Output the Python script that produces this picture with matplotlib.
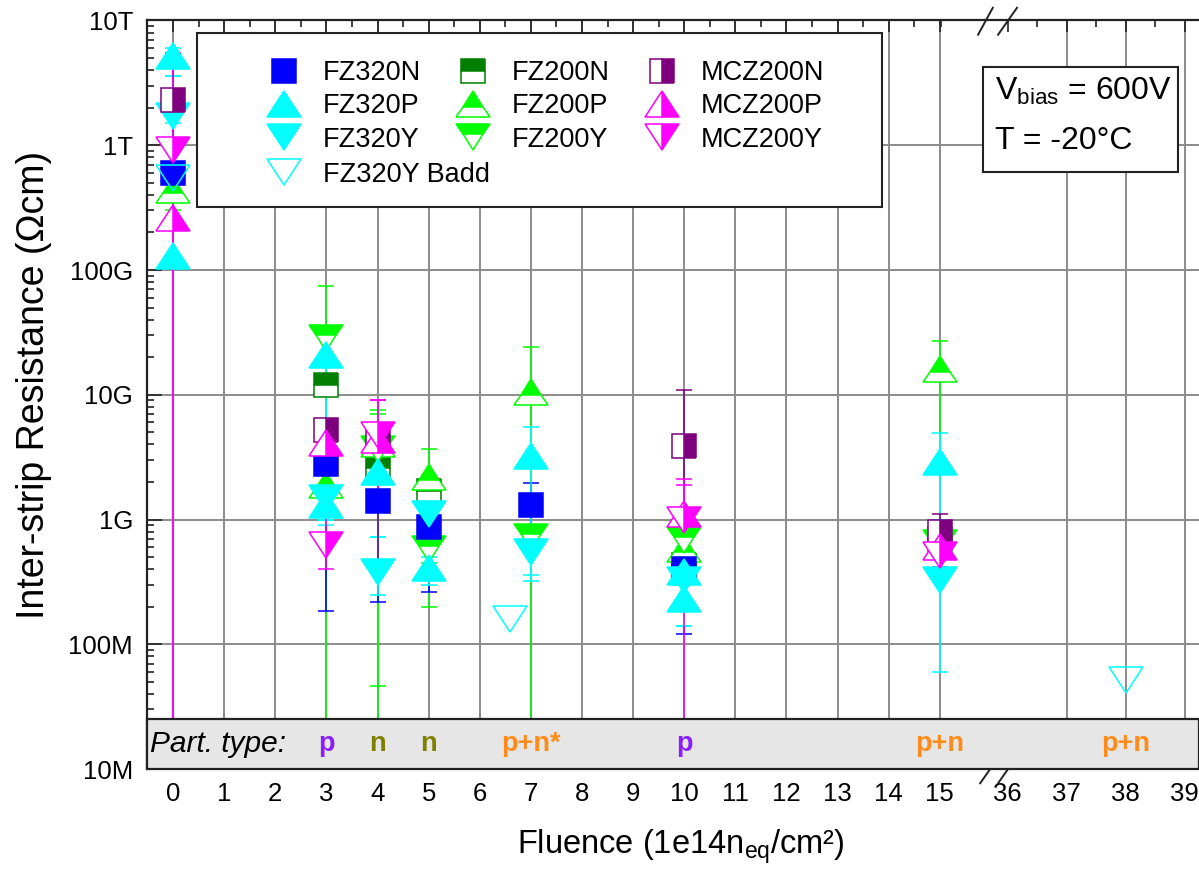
import numpy as np
import matplotlib
matplotlib.use('Agg')
import matplotlib.pyplot as plt
from matplotlib.markers import MarkerStyle
from matplotlib.transforms import Affine2D
from matplotlib.lines import Line2D
from matplotlib.patches import Rectangle

plt.rcParams['font.family'] = ['Liberation Sans', 'DejaVu Sans']
plt.rcParams['mathtext.fontset'] = 'custom'
plt.rcParams['mathtext.rm'] = 'Liberation Sans'
plt.rcParams['mathtext.it'] = 'Liberation Sans:italic'
plt.rcParams['mathtext.bf'] = 'Liberation Sans:bold'

# ---- measurements: value, lower and upper end of the error bar (Ohm cm) ----
# a lower end of 0 means the error is larger than the value itself
fz320n_x = [0, 3, 4, 5, 7, 10]
fz320n_y = [6.0e11, 2.8e9, 1.4e9, 8.7e8, 1.3e9, 4.0e8]
fz320n_lo = [5.6e11, 1.86e8, 2.2e8, 2.6e8, 7.2e8, 1.2e8]
fz320n_hi = [6.4e11, 5.5e9, 2.4e9, 1.3e9, 1.95e9, 1.1e9]

fz320p_x = [0, 0, 3, 3, 4, 5, 7, 10, 10, 15]
fz320p_y = [5.2e12, 1.3e11, 2.1e10, 1.3e9, 2.4e9, 4.1e8, 3.2e9, 3.8e8, 2.3e8, 2.9e9]
fz320p_lo = [3.6e12, 1.3e11, 1.0e9, 9.0e8, 7.2e8, 3.0e8, 3.6e8, 1.4e8, 1.4e8, 1.0e9]
fz320p_hi = [6.0e12, 1.3e11, 3.0e10, 1.8e9, 5.3e9, 7.0e8, 5.5e9, 6.0e8, 5.0e8, 4.9e9]

fz320y_x = [0, 3, 4, 5, 7, 10, 15]
fz320y_y = [1.7e12, 1.5e9, 3.8e8, 1.1e9, 5.5e8, 3.3e8, 3.3e8]
fz320y_lo = [1.5e12, 1.0e9, 2.5e8, 5.0e8, 3.2e8, 1.4e8, 6.0e7]
fz320y_hi = [3.6e12, 2.5e9, 7.2e8, 1.6e9, 6.5e8, 6.0e8, 1.0e9]

fz320yb_x = [0, 6.6, 38]
fz320yb_y = [5.5e11, 1.6e8, 5.2e7]

fz200n_x = [3, 4, 5, 10, 15]
fz200n_y = [1.2e10, 2.6e9, 1.7e9, 4.3e8, 7.0e8]
fz200n_lo = [1.1e10, 2.4e9, 1.5e9, 3.5e8, 6.0e8]
fz200n_hi = [1.3e10, 2.8e9, 1.9e9, 5.0e8, 8.0e8]

fz200p_x = [0, 3, 4, 5, 7, 10, 15]
fz200p_y = [4.4e11, 1.9e9, 4.0e9, 2.2e9, 1.06e10, 5.8e8, 1.6e10]
fz200p_lo = [3.0e11, 1.0e9, 4.6e7, 2.0e8, 0, 3.0e8, 2.8e9]
fz200p_hi = [1.0e12, 3.0e9, 7.5e9, 3.7e9, 2.4e10, 9.0e8, 2.7e10]

fz200y_x = [3, 4, 5, 7, 10, 15]
fz200y_y = [2.86e10, 3.7e9, 5.8e8, 7.2e8, 6.9e8, 6.5e8]
fz200y_lo = [0, 0, 4.5e8, 5.8e8, 3.5e8, 5.0e8]
fz200y_hi = [7.5e10, 7.0e9, 7.0e8, 9.0e8, 1.2e9, 8.0e8]

mcz200n_x = [0, 3, 4, 10, 15]
mcz200n_y = [2.3e12, 5.2e9, 4.5e9, 3.9e9, 7.9e8]
mcz200n_lo = [1.0e12, 2.5e9, 4.0e8, 1.1e9, 4.2e8]
mcz200n_hi = [5.5e12, 6.0e9, 5.5e9, 1.1e10, 1.1e9]

mcz200p_x = [0, 3, 4, 10, 15]
mcz200p_y = [2.6e11, 4.1e9, 4.3e9, 1.1e9, 6.0e8]
mcz200p_lo = [0, 1.5e9, 1.3e9, 5.0e8, 4.0e8]
mcz200p_hi = [9.0e11, 6.0e9, 9.0e9, 2.1e9, 8.0e8]

mcz200y_x = [0, 3, 4, 10, 15]
mcz200y_y = [9.1e11, 6.3e8, 4.8e9, 1.0e9, 5.2e8]
mcz200y_lo = [0, 4.0e8, 1.3e9, 0, 3.5e8]
mcz200y_hi = [5.0e12, 1.5e9, 9.0e9, 1.9e9, 7.0e8]

# particle type used for each irradiation
part_x = [3, 4, 5, 7, 10, 15, 38]
part_lab = ['p', 'n', 'n', 'p+n*', 'p', 'p+n', 'p+n']
part_col = {'p': '#8A1EFF', 'n': '#808000', 'p+n*': '#FF8C1A', 'p+n': '#FF8C1A'}

xticks = list(range(0, 16)) + [36, 37, 38, 39]
ylabels = ['10M', '100M', '1G', '10G', '100G', '1T', '10T']

# broken fluence axis: 15 -> 36 squeezed, right part slightly wider
BRK_LO, BRK_HI = 15.0, 36.0
GAP, STRETCH = 1.33, 1.155


def fwd(x):
    x = np.asarray(x, dtype=float)
    return np.where(x <= BRK_LO, x,
                    np.where(x >= BRK_HI, BRK_LO + GAP + (x - BRK_HI) * STRETCH,
                             BRK_LO + (x - BRK_LO) * GAP / (BRK_HI - BRK_LO)))


def inv(p):
    p = np.asarray(p, dtype=float)
    return np.where(p <= BRK_LO, p,
                    np.where(p >= BRK_LO + GAP, BRK_HI + (p - BRK_LO - GAP) / STRETCH,
                             BRK_LO + (p - BRK_LO) * (BRK_HI - BRK_LO) / GAP))


tri_shape = Affine2D().scale(1.0, 0.8)
BLUE, CYAN = '#0000FF', '#00FFFF'
DGREEN, GREEN = '#007F00', '#00FF00'
PURPLE, MAGENTA = '#7F007F', '#FF00FF'


def mstyle(m, fill):
    if m == 's':
        return MarkerStyle(m, fillstyle=fill), 17
    return MarkerStyle(m, fillstyle=fill, transform=tri_shape), 24


# name, x, y, lo, hi, colour, marker, fill
series = [
    ('FZ200N', fz200n_x, fz200n_y, fz200n_lo, fz200n_hi, DGREEN, 's', 'top'),
    ('FZ200P', fz200p_x, fz200p_y, fz200p_lo, fz200p_hi, GREEN, '^', 'top'),
    ('FZ200Y', fz200y_x, fz200y_y, fz200y_lo, fz200y_hi, GREEN, 'v', 'top'),
    ('FZ320N', fz320n_x, fz320n_y, fz320n_lo, fz320n_hi, BLUE, 's', 'full'),
    ('FZ320P', fz320p_x, fz320p_y, fz320p_lo, fz320p_hi, CYAN, '^', 'full'),
    ('FZ320Y', fz320y_x, fz320y_y, fz320y_lo, fz320y_hi, CYAN, 'v', 'full'),
    ('FZ320Y Badd', fz320yb_x, fz320yb_y, None, None, CYAN, 'v', 'none'),
    ('MCZ200N', mcz200n_x, mcz200n_y, mcz200n_lo, mcz200n_hi, PURPLE, 's', 'right'),
    ('MCZ200P', mcz200p_x, mcz200p_y, mcz200p_lo, mcz200p_hi, MAGENTA, '^', 'right'),
    ('MCZ200Y', mcz200y_x, mcz200y_y, mcz200y_lo, mcz200y_hi, MAGENTA, 'v', 'right'),
]

fig = plt.figure(figsize=(11.99, 8.72), dpi=100)
ax = fig.add_axes([0.1226, 0.1181, 0.8774, 0.8584])
ax.set_xscale('function', functions=(fwd, inv))
ax.set_yscale('log')

handles = {}
for name, x, y, lo, hi, c, m, fill in series:
    x = np.array(x, dtype=float)
    y = np.array(y)
    if lo is not None:
        yerr = [y - np.array(lo), np.array(hi) - y]
        ax.errorbar(x, y, yerr=yerr, fmt='none', ecolor=c, elinewidth=1.1,
                    capsize=5.5, capthick=1.1, zorder=2)
    ms, size = mstyle(m, fill)
    kw = dict(ls='none', marker=ms, ms=size, color=c, mec=c, mew=1.1,
              mfc='white' if fill == 'none' else c, markerfacecoloralt='white')
    ax.plot(x, y, zorder=2.2, **kw)
    handles[name] = Line2D([], [], **kw)

ax.set_xlim(-0.51, 39.24)
ax.set_ylim(1e7, 1e13)

# ticks and grid
ax.set_xticks(xticks, labels=[str(v) for v in xticks])
ax.set_xticks([v + 0.5 for v in range(0, 16)] + [36.5, 37.5, 38.5], minor=True)
ax.set_yticks([10.0 ** k for k in range(7, 14)], labels=ylabels)
ax.tick_params(axis='x', which='both', direction='in', bottom=False, top=True,
               labelbottom=True, labelsize=18.5, pad=9, width=1.2, color='#222222')
ax.tick_params(axis='x', which='major', length=8.5)
ax.tick_params(axis='x', which='minor', length=5)
ax.tick_params(axis='y', which='both', direction='in', left=True, right=False,
               labelsize=18.5, pad=10, width=1.2, color='#222222')
ax.tick_params(axis='y', which='major', length=11)
ax.tick_params(axis='y', which='minor', length=5)
ax.grid(True, which='major', color='#8C8C8C', lw=1.4)
for t in ax.xaxis.get_major_ticks():
    if t.get_loc() == BRK_HI:
        t.gridline.set_visible(False)

for s in ['top', 'left']:
    ax.spines[s].set_linewidth(1.6)
    ax.spines[s].set_color('#222222')
ax.spines['right'].set_visible(False)
ax.spines['bottom'].set_visible(False)

# particle-type strip along the bottom
ax.add_patch(Rectangle((0, 0), 1, 0.0668, transform=ax.transAxes, fc='#E6E6E6',
                       ec='#222222', lw=1.6, zorder=3, clip_on=False))
y_mid = np.sqrt(1e7 * 2.5e7)
ax.text(-0.45, y_mid, 'Part. type:', style='italic', fontsize=21.5, ha='left',
        va='center', zorder=4)
for px, lab in zip(part_x, part_lab):
    ax.text(px, y_mid, lab, fontsize=19.5, fontweight='bold', color=part_col[lab],
            ha='center', va='center', zorder=4)

# axis-break marks
for x0, x1, y0, y1 in [(0.790, 0.804, 0.981, 1.017), (0.809, 0.827, 0.981, 1.017),
                       (0.792, 0.801, -0.019, -0.001), (0.809, 0.818, -0.019, -0.001)]:
    ax.plot([x0, x1], [y0, y1], transform=ax.transAxes, color='#222222', lw=1.4,
            clip_on=False, zorder=5)

ax.set_ylabel('Inter-strip Resistance (\u03a9cm)', fontsize=27)
ax.yaxis.set_label_coords(-0.090, 0.513)
ax.set_xlabel(r'Fluence (1e14n$_{\mathrm{eq}}$/cm²)', fontsize=23.5)
ax.xaxis.set_label_coords(0.507, -0.078)

# legend box
ax.add_patch(Rectangle((0.0475, 0.7508), 0.651, 0.2325, transform=ax.transAxes,
                       fc='white', ec='#222222', lw=1.5, zorder=6))
order = ['FZ320N', 'FZ320P', 'FZ320Y', 'FZ200N', 'FZ200P', 'FZ200Y',
         'MCZ200N', 'MCZ200P', 'MCZ200Y']
leg_kw = dict(loc='upper left', frameon=False, fontsize=19.5, handlelength=1.35,
              handletextpad=0.75, columnspacing=1.25, labelspacing=0.27,
              borderpad=0, borderaxespad=0)
leg1 = ax.legend([handles[n] for n in order], order, ncol=3,
                 bbox_to_anchor=(0.113, 0.947), **leg_kw)
leg1.set_zorder(7)
ax.add_artist(leg1)
leg2 = ax.legend([handles['FZ320Y Badd']], ['FZ320Y Badd'],
                 bbox_to_anchor=(0.113, 0.811), **leg_kw)
leg2.set_zorder(7)

# bias / temperature box
ax.add_patch(Rectangle((0.7947, 0.7976), 0.1854, 0.1403, transform=ax.transAxes,
                       fc='white', ec='#222222', lw=1.5, zorder=6))
ax.text(0.806, 0.894, r'V$_{\mathrm{bias}}$ = 600V', transform=ax.transAxes,
        fontsize=23, va='baseline', zorder=7)
ax.text(0.806, 0.828, 'T = -20°C', transform=ax.transAxes, fontsize=23,
        va='baseline', zorder=7)

fig.savefig('out.png', dpi=100)
